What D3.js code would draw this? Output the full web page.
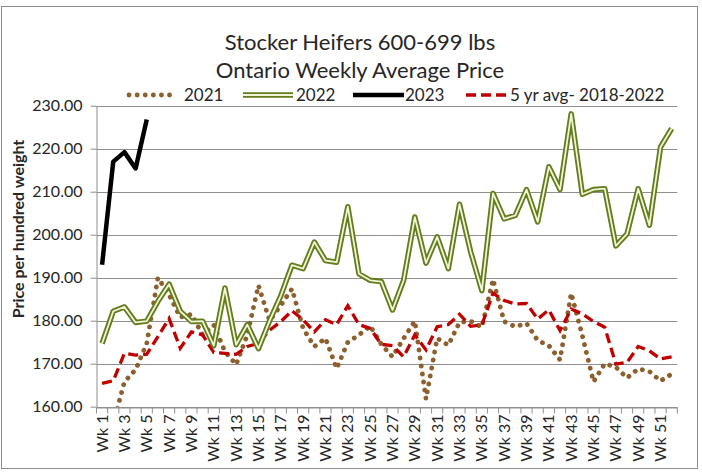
<!DOCTYPE html>
<html>
<head>
<meta charset="utf-8">
<script src="https://cdn.jsdelivr.net/npm/d3@7/dist/d3.min.js"></script>
<style>
  body { margin: 0; background: #fff; }
  text { font-family: Lato, "Open Sans", sans-serif; fill: #262626; }
</style>
</head>
<body>
<div id="container"></div>
<script>
// chart data
const weeks = d3.range(1, 53).map(function(i) { return 'Wk ' + i })
const yTicks = [160, 170, 180, 190, 200, 210, 220, 230]

const y2021 = [null, 156.0, 165.8, 168.6, 174.7, 190.0, 186.0, 180.8, 181.5, 176.7,
  179.0, 172.8, 169.8, 176.7, 188.2, 180.0, 183.6, 187.4, 178.2, 174.0,
  175.9, 168.9, 175.0, 176.7, 178.8, 174.5, 171.6, 175.9, 179.9, 161.8,
  175.9, 174.3, 179.6, 179.9, 178.5, 189.6, 179.8, 178.6, 179.4, 175.4,
  174.2, 170.9, 186.4, 176.5, 165.8, 170.0, 169.2, 166.7, 168.8, 168.2,
  166.0, 167.6]
const y2022 = [174.7, 182.2, 183.2, 179.6, 179.9, 184.5, 188.5, 182.2, 179.8, 179.9,
  174.2, 187.6, 174.4, 179.1, 173.5, 180.0, 185.8, 192.9, 192.1, 198.3,
  194.0, 193.6, 206.5, 190.9, 189.4, 189.1, 182.5, 189.4, 204.1, 193.4,
  199.5, 192.1, 207.1, 196.0, 187.0, 209.6, 203.7, 204.5, 210.5, 203.0,
  215.8, 210.5, 228.1, 209.4, 210.5, 210.7, 197.4, 200.2, 210.7, 202.2,
  220.4, 224.7]
const y2023 = [193.0, 217.0, 219.2, 215.4, 226.8]
const y5yr = [165.4, 166.0, 172.4, 172.0, 172.2, 176.3, 180.5, 173.6, 177.4, 176.7,
  172.6, 172.4, 172.2, 174.0, 174.7, 177.8, 179.8, 182.3, 180.2, 177.4,
  180.2, 179.1, 183.5, 179.1, 178.2, 174.5, 174.2, 171.6, 176.7, 173.2,
  178.6, 179.1, 181.5, 178.7, 179.0, 186.4, 184.7, 183.9, 184.0, 180.4,
  182.5, 177.7, 182.7, 181.6, 179.8, 178.5, 169.9, 170.3, 174.0, 173.0,
  171.1, 171.6]

const w = 702
const h = 472
const pLeft = 96.5, pRight = 677.3, pTop = 105.7, pBottom = 406.7

const svg = d3.select('#container')
    .append('svg')
    .attr('width', w)
    .attr('height', h)

// outer frame
svg.append('rect')
    .attr('x', 1.5).attr('y', 6.5)
    .attr('width', 696).attr('height', 462)
    .attr('fill', 'none')
    .attr('stroke', '#8c8c8c')

const x = d3.scaleBand()
    .domain(weeks)
    .range([pLeft, pRight])
    .padding(0)
const bw = x.bandwidth()

const y = d3.scaleLinear()
    .domain([160, 230])
    .range([pBottom, pTop])

// gridlines
svg.append('g')
    .selectAll('line')
    .data(yTicks)
    .enter()
    .append('line')
    .attr('x1', pLeft).attr('x2', pRight)
    .attr('y1', function(d) { return Math.round(y(d)) + 0.5 })
    .attr('y2', function(d) { return Math.round(y(d)) + 0.5 })
    .attr('stroke', '#8f8f8f')
    .attr('stroke-width', 1)

// y axis
const yAxis = svg.append('g')
    .attr('transform', 'translate(' + pLeft + ',0)')
    .call(d3.axisLeft(y).tickValues(yTicks).tickFormat(d3.format('.2f')).tickSize(6).tickPadding(8).tickSizeOuter(0))
yAxis.select('.domain').attr('stroke', '#8f8f8f')
yAxis.selectAll('.tick line').attr('stroke', '#8f8f8f')
yAxis.selectAll('.tick text')
    .style('font-size', '16px')
    .attr('fill', '#262626')

// x axis
const xAxis = svg.append('g')
    .attr('transform', 'translate(0,' + (Math.round(pBottom) + 0.5) + ')')
    .call(d3.axisBottom(x).tickSize(6).tickSizeOuter(0).tickFormat(function(d, i) {
        return i % 2 === 0 ? d : ''
    }))
xAxis.select('.domain').attr('stroke', '#8f8f8f')
xAxis.selectAll('.tick line')
    .attr('stroke', '#8f8f8f')
    .attr('transform', 'translate(' + (-bw / 2) + ',0)')
xAxis.append('line')
    .attr('x1', pRight).attr('x2', pRight)
    .attr('y1', 0).attr('y2', 6)
    .attr('stroke', '#8f8f8f')
xAxis.selectAll('.tick text')
    .style('font-size', '16px')
    .attr('fill', '#262626')
    .attr('text-anchor', 'end')
    .attr('dy', '0.35em')
    .attr('transform', 'translate(0,7) rotate(-90)')
    .attr('x', 0).attr('y', 0)

// clip to plot area
svg.append('clipPath').attr('id', 'plot')
    .append('rect')
    .attr('x', pLeft).attr('y', pTop - 6)
    .attr('width', pRight - pLeft).attr('height', pBottom - pTop + 6)

const line = d3.line()
    .defined(function(d) { return d != null })
    .x(function(d, i) { return x(weeks[i]) + bw / 2 })
    .y(function(d) { return y(d) })

const plot = svg.append('g').attr('clip-path', 'url(#plot)')

// 2021 dotted
plot.append('path')
    .attr('d', line(y2021))
    .attr('fill', 'none')
    .attr('stroke', '#8c5f2d')
    .attr('stroke-width', 4.8)
    .attr('stroke-linecap', 'round')
    .attr('stroke-dasharray', '0.1 8')

// 5 yr avg dashed
plot.append('path')
    .attr('d', line(y5yr))
    .attr('fill', 'none')
    .attr('stroke', '#c00000')
    .attr('stroke-width', 3.3)
    .attr('stroke-dasharray', '10 5')

// 2022 double line
plot.append('path')
    .attr('d', line(y2022))
    .attr('fill', 'none')
    .attr('stroke', '#637d1e')
    .attr('stroke-width', 5.5)
    .attr('stroke-linejoin', 'round')
plot.append('path')
    .attr('d', line(y2022))
    .attr('fill', 'none')
    .attr('stroke', '#f1f4d6')
    .attr('stroke-width', 1.8)
    .attr('stroke-linejoin', 'round')

// 2023 black
plot.append('path')
    .attr('d', line(y2023))
    .attr('fill', 'none')
    .attr('stroke', '#000')
    .attr('stroke-width', 4.5)
    .attr('stroke-linejoin', 'round')

// title
svg.append('text')
    .attr('x', 360).attr('y', 50)
    .attr('text-anchor', 'middle')
    .style('font-size', '22px')
    .text('Stocker Heifers 600-699 lbs')
svg.append('text')
    .attr('x', 360).attr('y', 78)
    .attr('text-anchor', 'middle')
    .style('font-size', '22px')
    .text('Ontario Weekly Average Price')

// y axis title
svg.append('text')
    .attr('transform', 'translate(24,229) rotate(-90)')
    .attr('text-anchor', 'middle')
    .style('font-size', '16px')
    .style('font-weight', 'bold')
    .text('Price per hundred weight')

// legend
const legY = 95
const lg = svg.append('g')
function legendLine(x1, x2) {
    return lg.append('line')
        .attr('x1', x1).attr('x2', x2)
        .attr('y1', legY).attr('y2', legY)
        .attr('fill', 'none')
}
legendLine(129, 177)
    .attr('stroke', '#8c5f2d').attr('stroke-width', 4.8)
    .attr('stroke-linecap', 'round').attr('stroke-dasharray', '0.1 8')
legendLine(243, 293).attr('stroke', '#637d1e').attr('stroke-width', 5.5)
legendLine(243, 293).attr('stroke', '#f1f4d6').attr('stroke-width', 1.8)
legendLine(353, 404).attr('stroke', '#000').attr('stroke-width', 4.5)
legendLine(466, 506)
    .attr('stroke', '#c00000').attr('stroke-width', 3.3).attr('stroke-dasharray', '10 5')

const legendText = [['2021', 184], ['2022', 296], ['2023', 405], ['5 yr avg- 2018-2022', 510]]
lg.selectAll('text.leg')
    .data(legendText)
    .enter()
    .append('text')
    .attr('class', 'leg')
    .attr('x', function(d) { return d[1] })
    .attr('y', legY + 6)
    .style('font-size', '17px')
    .text(function(d) { return d[0] })
</script>
</body>
</html>
